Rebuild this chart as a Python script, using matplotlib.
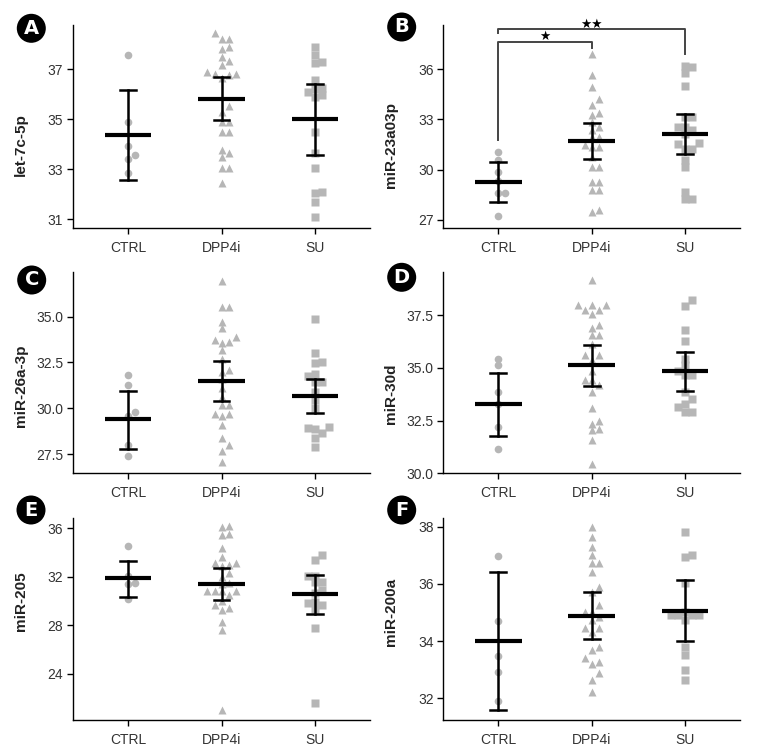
import numpy as np
import matplotlib
matplotlib.use('Agg')
import matplotlib.pyplot as plt
from matplotlib.patches import Circle

plt.rcParams['font.family'] = ['Liberation Sans', 'DejaVu Sans']

groups = ['CTRL', 'DPP4i', 'SU']
markers = ['o', '^', 's']
panels = ['A', 'B', 'C', 'D', 'E', 'F']
ylabels = ['let-7c-5p', 'miR-23a03p', 'miR-26a-3p', 'miR-30d', 'miR-205', 'miR-200a']

# valores por grupo (CTRL, DPP4i, SU)
let7c = [
    [37.57, 34.9, 33.93, 33.55, 33.4, 32.85],
    [38.44, 38.2, 38.2, 37.8, 37.87, 37.48, 37.33, 37.15, 36.77, 36.81, 36.87, 36.81,
     36.64, 35.53, 35.3, 34.9, 34.9, 34.5, 34.5, 33.77, 33.64, 33.48, 33.04, 33.04, 32.44],
    [37.87, 37.57, 37.24, 37.28, 36.57, 36.24, 36.2, 36.1, 35.97, 35.9, 34.48, 33.64,
     33.04, 32.04, 32.08, 31.69, 31.1],
]
mir23 = [
    [31.06, 30.6, 29.86, 29.3, 28.6, 28.6, 27.2],
    [36.9, 35.66, 34.96, 34.2, 33.86, 33.36, 33.26, 32.86, 32.56, 32.36, 31.96, 31.96,
     31.46, 31.36, 31.36, 30.76, 30.16, 30.16, 29.26, 29.26, 28.76, 28.8, 27.46, 27.56],
    [36.22, 36.16, 35.8, 35.0, 33.16, 33.16, 32.56, 32.56, 32.36, 32.16, 31.6, 31.52,
     31.26, 31.26, 30.6, 30.16, 28.66, 28.26, 28.26],
]
mir26 = [
    [31.82, 31.27, 29.82, 29.55, 28.0, 27.4],
    [36.96, 35.5, 35.5, 34.73, 34.36, 33.9, 33.75, 33.6, 33.55, 33.18, 32.7, 32.1, 32.0,
     31.6, 31.1, 30.64, 30.2, 30.2, 29.7, 29.7, 29.6, 29.1, 28.36, 28.0, 27.64, 27.04],
    [34.85, 33.0, 32.55, 32.45, 31.85, 31.76, 31.45, 31.45, 30.9, 30.45, 30.0, 29.0,
     28.9, 28.85, 28.64, 28.4, 27.87],
]
mir30d = [
    [35.44, 35.12, 33.86, 33.3, 32.19, 31.13],
    [39.16, 38.0, 38.0, 38.0, 37.74, 37.74, 37.55, 37.02, 36.87, 36.55, 36.55, 36.15,
     35.6, 35.6, 35.36, 34.84, 34.41, 34.41, 34.17, 33.86, 33.1, 32.5, 32.35, 32.03,
     32.08, 31.56, 30.45],
    [38.2, 37.94, 36.79, 36.28, 35.44, 35.12, 34.84, 34.65, 34.65, 33.86, 33.54, 33.3,
     33.14, 32.9, 32.9],
]
mir205 = [
    [34.5, 32.1, 31.5, 31.4, 30.2],
    [36.1, 36.15, 35.45, 35.5, 34.35, 33.6, 33.1, 33.1, 33.0, 32.85, 32.35, 32.0, 31.47,
     31.4, 30.8, 30.8, 30.8, 30.8, 30.5, 30.0, 29.7, 29.4, 29.3, 28.3, 27.6, 21.0],
    [33.8, 33.4, 32.07, 32.1, 31.6, 31.55, 30.9, 30.64, 29.95, 29.8, 29.7, 29.35,
     27.76, 21.58],
]
mir200a = [
    [36.97, 34.71, 33.49, 32.93, 31.9],
    [37.98, 37.65, 37.28, 37.0, 36.72, 36.74, 36.43, 35.88, 35.73, 35.26, 35.03, 35.03,
     34.85, 34.74, 34.47, 34.47, 34.33, 33.8, 33.69, 33.42, 33.28, 33.19, 32.87, 32.64,
     32.23],
    [37.8, 36.95, 37.0, 36.02, 35.0, 34.9, 34.9, 34.9, 34.9, 34.74, 33.8, 33.5, 32.99,
     32.64],
]
allData = [let7c, mir23, mir26, mir30d, mir205, mir200a]

# media e limites do intervalo (inferior, superior)
means = [[34.35, 35.8, 35.0], [29.26, 31.72, 32.16], [29.4, 31.5, 30.67],
         [33.27, 35.12, 34.84], [31.88, 31.41, 30.56], [34.01, 34.89, 35.06]]
lows = [[32.55, 34.95, 33.57], [28.06, 30.66, 30.92], [27.76, 30.4, 29.76],
        [31.75, 34.12, 33.9], [30.37, 30.09, 28.94], [31.59, 34.06, 34.01]]
highs = [[36.16, 36.67, 36.41], [30.46, 32.8, 33.32], [30.96, 32.58, 31.58],
         [34.77, 36.1, 35.76], [33.34, 32.7, 32.15], [36.43, 35.7, 36.14]]

yticks = [[31, 33, 35, 37], [27, 30, 33, 36], [27.5, 30.0, 32.5, 35.0],
          [30.0, 32.5, 35.0, 37.5], [24, 28, 32, 36], [32, 34, 36, 38]]
ylims = [(30.64, 38.77), (26.5, 38.66), (26.45, 37.45), (30.0, 39.56), (20.2, 36.82), (31.24, 38.29)]

# comparacoes significativas no painel B: (grupo i, grupo j, estrelas)
sigPairs = [(0, 1, '\u2605'), (0, 2, '\u2605\u2605')]
# altura do colchete, fim esquerdo, fim direito, altura das estrelas
sigLevels = [(37.66, 31.76, 37.3, 37.95), (38.4, 38.16, 36.92, 38.72)]

W, H = 774, 751
fig = plt.figure(figsize=(W / 100, H / 100), dpi=100)

axBoxes = [(73, 25, 370, 228), (443.3, 25, 740, 228),
           (73, 271.7, 370, 473.3), (443.3, 271.7, 740, 473.3),
           (73, 518.3, 370, 720), (443.3, 518.3, 740, 720)]
badges = [(31.3, 28.3), (401.7, 27), (31.7, 280), (401.7, 277.3), (31, 510), (401.7, 510)]

pointColor = '#b6b6b6'


def swarm(ax, vals, center, diam_px):
    # desloca pontos para nao sobrepor (estilo swarm)
    order = np.argsort(vals)
    yp = ax.transData.transform(np.column_stack([np.zeros(len(vals)), vals]))[:, 1]
    xc = ax.transData.transform([[center, 0]])[0, 0]
    placed = []
    xs = np.zeros(len(vals))
    for i in order:
        k = 0
        while True:
            off = ((k + 1) // 2) * (1 if k % 2 == 1 else -1) * diam_px
            ok = True
            for (px, py) in placed:
                if (px - off) ** 2 + (py - yp[i]) ** 2 < (diam_px * 0.95) ** 2:
                    ok = False
                    break
            if ok:
                break
            k += 1
        placed.append((off, yp[i]))
        xs[i] = ax.transData.inverted().transform([[xc + off, yp[i]]])[0, 0]
    return xs


for p in range(6):
    l, t, r, b = axBoxes[p]
    ax = fig.add_axes([l / W, (H - b) / H, (r - l) / W, (b - t) / H])
    ax.set_xlim(-0.59, 2.59)
    ax.set_ylim(*ylims[p])
    for s in ['top', 'right']:
        ax.spines[s].set_visible(False)
    for s in ['left', 'bottom']:
        ax.spines[s].set_linewidth(1.0)
    ax.set_xticks(range(3))
    ax.set_xticklabels(groups)
    ax.set_yticks(yticks[p])
    if p in (2, 3):
        ax.set_yticklabels(['%.1f' % v for v in yticks[p]])
    else:
        ax.set_yticklabels(['%d' % v for v in yticks[p]])
    ax.tick_params(labelsize=10, labelcolor='#333333', length=4, width=1, pad=3)
    ax.tick_params(axis='x', pad=5)

    for g in range(3):
        vals = np.array(allData[p][g])
        ms = 5.5 if markers[g] != '^' else 6.2
        xs = swarm(ax, vals, g, 7.0)
        ax.plot(xs, vals, ls='none', marker=markers[g], ms=ms, mfc=pointColor,
                mec='none', zorder=2)
        ax.plot([g - 0.25, g + 0.25], [means[p][g]] * 2, c='black', lw=3, zorder=3,
                solid_capstyle='butt')
        ax.plot([g, g], [lows[p][g], highs[p][g]], c='black', lw=1.8, zorder=3)
        ax.plot([g - 0.085, g + 0.085], [lows[p][g]] * 2, c='black', lw=1.8, zorder=3)
        ax.plot([g - 0.085, g + 0.085], [highs[p][g]] * 2, c='black', lw=1.8, zorder=3)

    ax.set_ylabel(ylabels[p], fontsize=11, fontweight='bold', color='#222222')
    yc = (yticks[p][0] + yticks[p][-1]) / 2
    ycAx = (yc - ylims[p][0]) / (ylims[p][1] - ylims[p][0])
    ax.yaxis.set_label_coords(-45 / (r - l), ycAx)

    if p == 1:
        # colchetes de significancia
        for (i, j, star), (top, leftDrop, rightDrop, starY) in zip(sigPairs, sigLevels):
            ax.plot([i, i, j, j], [leftDrop, top, top, rightDrop], c='#444444', lw=1.4,
                    clip_on=False, zorder=1)
            ax.text((i + j) / 2, starY, star, ha='center', va='center', fontsize=9,
                    family='DejaVu Sans', clip_on=False)

    bx, by = badges[p]
    fig.add_artist(Circle((bx / 100, (H - by) / 100), 0.145, transform=fig.dpi_scale_trans,
                          facecolor='black', edgecolor='none'))
    fig.text(bx / W, (H - by) / H, panels[p], ha='center', va='center', color='white',
             fontsize=14, fontweight='bold', family='DejaVu Sans')

fig.savefig('out.png', dpi=100)
